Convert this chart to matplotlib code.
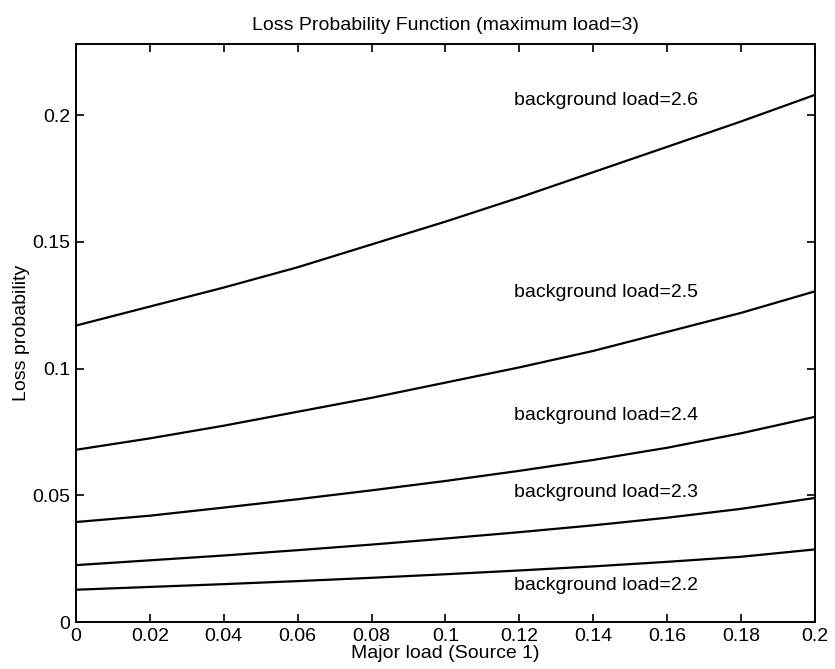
import numpy as np
import matplotlib.pyplot as plt
from matplotlib.ticker import FuncFormatter

# major load (source 1)
x = [0, 0.02, 0.04, 0.06, 0.08, 0.1, 0.12, 0.14, 0.16, 0.18, 0.2]

# loss probability for each background load
loss_26 = [0.117, 0.1245, 0.132, 0.140, 0.149, 0.158, 0.1675, 0.1775, 0.1875, 0.1975, 0.208]
loss_25 = [0.068, 0.0725, 0.0775, 0.0830, 0.0885, 0.0945, 0.1005, 0.107, 0.1145, 0.122, 0.1305]
loss_24 = [0.0395, 0.042, 0.0452, 0.0485, 0.052, 0.0557, 0.0597, 0.064, 0.0688, 0.0745, 0.081]
loss_23 = [0.0225, 0.0244, 0.0263, 0.0284, 0.0306, 0.033, 0.0355, 0.0382, 0.0412, 0.0447, 0.049]
loss_22 = [0.0128, 0.0139, 0.015, 0.0162, 0.0175, 0.0189, 0.0204, 0.022, 0.0238, 0.0258, 0.0287]

labels = ["background load=2.6", "background load=2.5", "background load=2.4",
          "background load=2.3", "background load=2.2"]
label_y = [0.2058, 0.130, 0.0815, 0.051, 0.0146]


def main():
    plt.rcParams['font.family'] = ['Liberation Sans', 'DejaVu Sans']
    fig = plt.figure(figsize=(8.35, 6.69), dpi=100)
    ax = fig.add_axes([0.091, 0.070, 0.885, 0.864])

    for series in [loss_26, loss_25, loss_24, loss_23, loss_22]:
        ax.plot(x, series, color="black", linewidth=1.6)

    for text, ty in zip(labels, label_y):
        ax.text(0.1185, ty, text, fontsize=14, va="center", ha="left")

    ax.set_xlim(0, 0.2)
    ax.set_ylim(0, 0.228)
    ax.set_xticks(x)
    ax.set_yticks([0, 0.05, 0.1, 0.15, 0.2])
    fmt = FuncFormatter(lambda v, p: "%g" % round(v, 4))
    ax.xaxis.set_major_formatter(fmt)
    ax.yaxis.set_major_formatter(fmt)
    ax.tick_params(direction="in", top=True, right=True, length=6, width=1.2,
                   labelsize=14, pad=4)
    for s in ax.spines.values():
        s.set_linewidth(1.4)

    ax.set_title("Loss Probability Function (maximum load=3)", fontsize=14, pad=10)
    ax.set_xlabel("Major load (Source 1)", fontsize=14, labelpad=0)
    ax.set_ylabel("Loss probability", fontsize=14, labelpad=2)

    fig.savefig("out.png", dpi=100)


if __name__ == "__main__":
    main()
